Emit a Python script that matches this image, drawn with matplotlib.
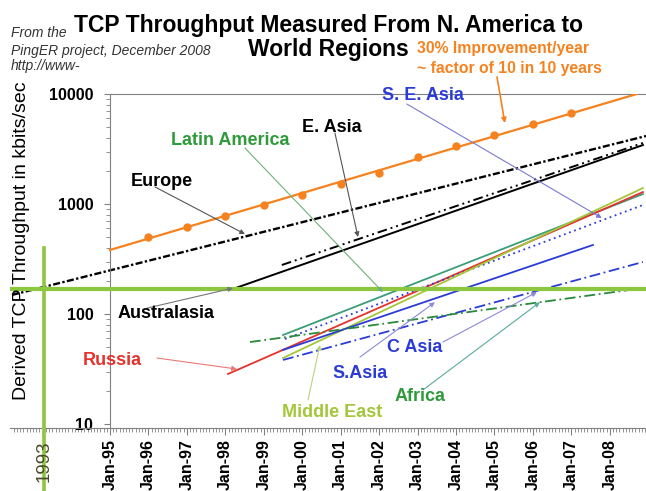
import numpy as np
import matplotlib
matplotlib.use("Agg")
import matplotlib.pyplot as plt
from matplotlib.ticker import FixedLocator, NullFormatter, LogLocator

plt.rcParams['font.family'] = ['Liberation Sans', 'DejaVu Sans']

# --- data (year as decimal, throughput kbits/s) ---
orange_years = [1996, 1997, 1998, 1999, 2000, 2001, 2002, 2003, 2004, 2005, 2006, 2007]
orange_vals = [501, 618, 778, 980, 1208, 1520, 1914, 2674, 3367, 4240, 5337, 6718]
orange_trend_x = [1995.0, 2008.70]
orange_trend_y = [382, 10000]

europe_x = [1992.45, 2008.94]
europe_y = [149, 4150]
easia_x = [1999.47, 2008.86]
easia_y = [279, 3589]
austral_x = [1998.20, 2008.86]
austral_y = [169, 3436]

latam_x = [1999.50, 2008.86]
latam_y = [64.4, 1233]
russia_x = [1998.07, 2008.86]
russia_y = [28.5, 1285]
seasia_x = [1999.55, 2008.86]
seasia_y = [59.3, 979]
mideast_x = [1999.50, 2008.86]
mideast_y = [39.8, 1397]
sasia_x = [1999.50, 2007.56]
sasia_y = [47.1, 424]
casia_x = [1999.50, 2008.86]
casia_y = [38.2, 297]
africa_x = [1998.64, 2008.86]
africa_y = [55.6, 172]

year_ticks = list(range(1995, 2009))
year_labels = ["Jan-%02d" % (y % 100) for y in year_ticks]
europe_1993 = 169      # green crosshair level
mark_year = 1993.28

ORANGE = '#f5821f'
BLUE = '#2b3cd6'
GREEN = '#2e9a3a'

fig = plt.figure(figsize=(6.46, 4.91), dpi=100)
ax = fig.add_axes([10/646, 1 - 428/491, 636/646, 334/491])
ax.set_yscale('log')
ax.set_xlim(1992.40, 2008.94)
ax.set_ylim(10 ** (4 - 334/110), 10000)

# trend lines
ax.plot(orange_trend_x, orange_trend_y, color=ORANGE, lw=1.6, zorder=3)
ax.plot(orange_years, orange_vals, 'o', color=ORANGE, ms=5, zorder=4)
ax.plot(europe_x, europe_y, color='black', lw=1.7, ls=(0, (3, 1, 1, 1)))
ax.plot(easia_x, easia_y, color='black', lw=1.4, ls=(0, (5, 2, 1, 2, 1, 2)))
ax.plot(austral_x, austral_y, color='black', lw=1.4)
ax.plot(latam_x, latam_y, color='#3a9e78', lw=1.3)
ax.plot(russia_x, russia_y, color='#e5322d', lw=1.3)
ax.plot(seasia_x, seasia_y, color=BLUE, lw=1.3, ls=(0, (1, 2)))
ax.plot(mideast_x, mideast_y, color='#a4c639', lw=1.3)
ax.plot(sasia_x, sasia_y, color=BLUE, lw=1.3)
ax.plot(casia_x, casia_y, color=BLUE, lw=1.3, ls=(0, (6, 2, 1, 2)))
ax.plot(africa_x, africa_y, color='#2a8a3a', lw=1.3, ls=(0, (6, 2, 1, 2)))

# green crosshair at 1993
ax.axhline(europe_1993, color='#8dc63f', lw=3, zorder=5)
ax.plot([mark_year, mark_year], [398, 2.3], color='#8dc63f', lw=2.6,
        clip_on=False, zorder=6)
ax.text(mark_year, 4.6, '1993', rotation=90, ha='center', va='center',
        fontsize=13.5, color='#4a4a2a', clip_on=False, zorder=7)

# axes styling
ax.spines['right'].set_visible(False)
ax.spines['left'].set_position(('data', 1995))
ax.spines['top'].set_bounds(1995, 2008.94)
for s in ['left', 'bottom', 'top']:
    ax.spines[s].set_color('#808080')
ax.xaxis.set_major_locator(FixedLocator(year_ticks))
ax.set_xticklabels(year_labels, rotation=90, fontsize=11.5, fontweight='bold')
ax.xaxis.set_minor_locator(FixedLocator(np.arange(1992.5, 2008.95, 1/12)))
ax.tick_params(axis='x', which='major', length=5, pad=3, color='#808080')
ax.tick_params(axis='x', which='minor', length=3, color='#808080')
ax.yaxis.set_major_locator(FixedLocator([10, 100, 1000, 10000]))
ax.set_yticklabels(['10', '100', '1000', '10000'], fontsize=11.5, fontweight='bold')
ax.yaxis.set_minor_locator(LogLocator(base=10, subs=np.arange(2, 10)))
ax.yaxis.set_minor_formatter(NullFormatter())
ax.tick_params(axis='y', which='major', length=4, pad=8, color='#808080')
ax.tick_params(axis='y', which='minor', length=3, color='#808080')

# labels with arrows
def label(text, pos, tail, tip, color, acolor):
    ax.text(pos[0], pos[1], text, color=color, fontsize=13, fontweight='bold',
            ha='center', va='center', zorder=7)
    ax.annotate('', xy=tip, xytext=tail,
                arrowprops=dict(arrowstyle='-|>', color=acolor, lw=0.8,
                                mutation_scale=7, shrinkA=0, shrinkB=0), zorder=6)

label('Europe', (1996.34, 1585), (1996.17, 1429), (1998.51, 533), 'black', '#555555')
label('Latin America', (1998.12, 3741), (1998.51, 3228), (2002.10, 158), GREEN, '#6fb07a')
label('E. Asia', (2000.77, 4911), (2000.85, 4420), (2001.45, 501), 'black', '#555555')
label('S. E. Asia', (2003.14, 9590), (2002.72, 8111), (2007.79, 746), BLUE, '#7a7ad0')
label('Australasia', (1996.46, 102), (1995.96, 113), (1998.20, 172), 'black', '#777777')
label('Russia', (1995.05, 37.4), (1996.22, 39.8), (1998.30, 31.6), '#e5322d', '#e87878')
label('Middle East', (2000.77, 12.6), (2000.15, 16.5), (2000.46, 52.3), '#a4c639', '#b8d47a')
label('C Asia', (2002.93, 50.1), (2003.66, 55.6), (2006.10, 158), BLUE, '#8a8ad8')
label('S.Asia', (2001.50, 28.5), (2001.50, 40.6), (2003.45, 128), BLUE, '#8a8ad8')
label('Africa', (2003.06, 17.6), (2003.14, 20.4), (2006.18, 128), GREEN, '#5aaa9a')

ax.annotate('', xy=(2005.27, 5445), xytext=(497, 491 - 77), textcoords='figure pixels',
            arrowprops=dict(arrowstyle='-|>', color=ORANGE, lw=1.2,
                            mutation_scale=7, shrinkA=0, shrinkB=0))

# titles and notes
fig.text(328/646, 1 - 32/491, 'TCP Throughput Measured From N. America to',
         ha='center', va='baseline', fontsize=16.5, fontweight='bold')
fig.text(328/646, 1 - 56/491, 'World Regions',
         ha='center', va='baseline', fontsize=16.5, fontweight='bold')
fig.text(11/646, 1 - 37/491, 'From the', style='italic', fontsize=10, color='#333333')
fig.text(11/646, 1 - 55/491, 'PingER project, December 2008', style='italic',
         fontsize=10, color='#333333')
fig.text(11/646, 1 - 70/491, 'http://www-', style='italic', fontsize=10, color='#333333')
fig.text(417/646, 1 - 53/491, '30% Improvement/year', fontsize=11.3,
         fontweight='bold', color=ORANGE)
fig.text(417/646, 1 - 73/491, '~ factor of 10 in 10 years', fontsize=11.3,
         fontweight='bold', color=ORANGE)
fig.text(22/646, 1 - 241/491, 'Derived TCP Throughput in kbits/sec', rotation=90,
         ha='center', va='center', fontsize=14)

fig.savefig('out.png', dpi=100)
